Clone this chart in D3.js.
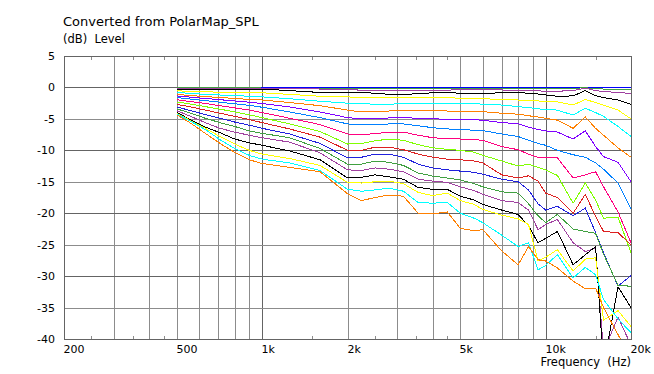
<!DOCTYPE html>
<html><head><meta charset="utf-8">
<script src="https://cdn.jsdelivr.net/npm/d3@7"></script>
<style>
body{margin:0;background:#fff;}
svg{display:block;font-family:"DejaVu Sans",Verdana,sans-serif;}
.pre{white-space:pre;}
</style></head><body>
<svg id="chart" width="654" height="374"></svg>
<script>
const freqs = [500,560,630,710,800,900,1000,1250,1600,2000,2240,2500,2800,3150,3550,4000,4500,5000,5600,6000,7000,8000,8700,9400,10000,11000,12500,13800,15000,16000,18000,20000];

const s01 = [0,0,0,0,0,0,0,0,0,0,0,0,0,0,0,0,0,0,0,0,0,0,0,0,0,0,0,0,0,0,0,0];
const s02 = [0,0,0,0,0,0,-0.1,-0.1,-0.15,-0.15,-0.15,-0.15,-0.15,-0.15,-0.15,-0.15,-0.15,-0.15,-0.15,-0.15,-0.15,-0.15,-0.15,-0.15,-0.15,-0.15,-0.15,-0.05,-0.2,-0.25,-0.25,-0.25];
const s03 = [-0.15,-0.15,-0.15,-0.15,-0.15,-0.15,-0.2,-0.2,-0.25,-0.3,-0.45,-0.5,-0.5,-0.5,-0.5,-0.5,-0.45,-0.3,-0.3,-0.3,-0.4,-0.55,-0.55,-0.55,-0.6,-0.6,-0.5,-0.1,-0.5,-0.65,-0.8,-0.95];
const s04 = [-0.25,-0.25,-0.25,-0.25,-0.25,-0.25,-0.25,-0.5,-0.8,-0.85,-0.85,-0.9,-1.1,-1.1,-1.0,-0.85,-0.85,-0.9,-0.9,-0.95,-0.85,-0.85,-0.9,-1.05,-1.2,-1.4,-1.35,-0.5,-1.3,-1.6,-2.0,-2.7];
const s05 = [-0.55,-0.6,-0.7,-0.75,-0.8,-0.8,-0.85,-1.1,-1.4,-1.5,-1.6,-1.65,-1.65,-1.6,-1.55,-1.6,-1.65,-1.7,-1.75,-1.8,-1.9,-2.0,-2.05,-2.15,-2.2,-2.3,-2.8,-1.9,-2.4,-2.8,-3.6,-5.0];
const s06 = [-0.8,-0.95,-1.1,-1.2,-1.3,-1.4,-1.5,-1.8,-2.2,-2.5,-2.6,-2.65,-2.65,-2.6,-2.6,-2.6,-2.6,-2.6,-2.6,-2.65,-2.8,-3.05,-3.2,-3.4,-3.5,-3.6,-4.4,-3.3,-4.0,-4.6,-6.2,-7.8];
const s07 = [-1.1,-1.3,-1.45,-1.6,-1.75,-1.9,-2.0,-2.4,-2.9,-3.6,-3.9,-3.9,-3.75,-3.65,-3.65,-3.7,-3.75,-3.8,-3.8,-3.85,-4.1,-4.25,-4.5,-4.7,-4.9,-5.2,-6.5,-4.7,-6.5,-7.6,-9.6,-11.1];
const s08 = [-1.35,-1.55,-1.75,-1.95,-2.15,-2.35,-2.55,-3.1,-3.9,-4.8,-5.0,-5.0,-4.85,-4.8,-4.9,-5.0,-5.05,-5.1,-5.15,-5.2,-5.6,-5.75,-6.3,-6.7,-6.9,-7.1,-8.2,-6.9,-9.4,-11.0,-11.9,-15.0];
const s09 = [-1.6,-1.85,-2.1,-2.35,-2.6,-2.85,-3.15,-3.9,-4.8,-5.8,-5.95,-5.95,-5.8,-5.8,-6.1,-6.4,-6.6,-6.7,-6.8,-6.85,-7.4,-7.8,-8.4,-8.9,-9.2,-10.0,-10.7,-11.1,-12.0,-13.0,-15.2,-19.3];
const s10 = [-1.95,-2.25,-2.55,-2.9,-3.25,-3.6,-4.0,-4.9,-5.9,-7.4,-7.5,-7.35,-7.1,-7.1,-7.6,-8.0,-8.15,-8.2,-8.3,-8.4,-9.4,-9.9,-10.6,-11.1,-11.2,-11.2,-14.4,-13.9,-13.4,-15.8,-19.8,-24.7];
const s11 = [-2.3,-2.65,-3.05,-3.45,-3.9,-4.35,-4.8,-5.8,-7.0,-9.0,-8.9,-8.5,-8.2,-8.4,-9.1,-9.6,-9.85,-10.0,-10.3,-10.8,-11.7,-12.5,-12.2,-12.7,-13.1,-14.0,-18.4,-15.2,-17.9,-20.8,-20.6,-26.3];
const s12 = [-2.7,-3.1,-3.6,-4.1,-4.6,-5.1,-5.6,-6.6,-7.9,-10.0,-10.0,-9.5,-9.5,-9.9,-10.6,-11.1,-11.4,-11.5,-11.7,-12.0,-13.9,-14.4,-14.05,-14.9,-16.8,-17.5,-20.0,-17.0,-20.5,-22.9,-23.1,-25.0];
const s13 = [-3.1,-3.7,-4.3,-4.9,-5.5,-6.0,-6.5,-7.4,-8.9,-11.2,-11.1,-10.6,-10.6,-11.1,-12.2,-12.8,-13.1,-13.3,-13.5,-13.8,-14.6,-15.0,-16.3,-18.5,-19.5,-18.9,-20.4,-19.2,-23.1,-26.3,-31.6,-29.9];
const s14 = [-3.4,-4.1,-4.9,-5.6,-6.2,-6.9,-7.3,-8.0,-9.7,-12.2,-12.2,-11.7,-11.9,-12.4,-13.6,-14.1,-14.4,-14.7,-15.3,-15.8,-16.6,-16.8,-18.5,-20.4,-21.5,-20.2,-22.5,-22.9,-23.2,-26.5,-31.5,-31.6];
const s15 = [-3.7,-4.6,-5.6,-6.5,-7.1,-7.6,-8.0,-8.7,-10.4,-13.1,-13.2,-12.8,-13.0,-13.4,-14.6,-14.9,-15.1,-15.8,-16.4,-17.0,-18.0,-18.3,-19.5,-22.6,-21.8,-21.0,-24.7,-26.1,-25.5,-42.0,-36.5,-41.0];
const s16 = [-3.95,-5.2,-6.3,-7.2,-8.2,-8.8,-9.2,-10.1,-11.5,-14.4,-14.3,-13.9,-14.2,-14.6,-15.9,-16.2,-16.2,-17.3,-17.9,-18.6,-19.5,-20.2,-22.0,-24.7,-24.0,-22.9,-28.2,-26.6,-25.3,-44.3,-31.7,-35.0];
const s17 = [-4.1,-5.3,-6.5,-7.8,-9.0,-10.0,-10.6,-11.3,-12.4,-15.1,-15.2,-15.0,-14.9,-15.3,-16.7,-17.2,-16.8,-18.0,-18.6,-19.4,-20.3,-20.9,-21.8,-27.6,-27.0,-25.8,-29.2,-27.3,-27.1,-37.0,-35.5,-38.0];
const s18 = [-4.2,-5.4,-6.7,-8.3,-9.7,-10.8,-11.4,-12.0,-13.2,-16.2,-16.5,-16.3,-16.0,-16.5,-18.3,-18.4,-18.3,-20.0,-20.8,-21.5,-23.5,-25.3,-24.7,-29.0,-28.3,-26.6,-30.3,-28.6,-29.8,-33.7,-36.8,-39.0];
const s19 = [-4.35,-5.7,-7.3,-8.9,-10.3,-11.5,-12.1,-12.7,-13.4,-16.9,-18.0,-17.5,-17.1,-17.3,-20.0,-20.1,-19.8,-22.4,-22.8,-22.6,-26.0,-28.2,-25.3,-27.4,-27.6,-28.7,-30.8,-32.0,-31.9,-35.0,-39.3,-43.0];

const seriesList = [s01,s02,s03,s04,s05,s06,s07,s08,s09,s10,s11,s12,s13,s14,s15,s16,s17,s18,s19];
const seriesColors = ["#0000ff","#40a040","#a040a0","#000000","#ffff00","#00ffff","#ff8000","#8000ff","#0080ff","#ff0080","#80ff00","#dd2020","#2020dd","#40a040","#a040a0","#000000","#ffff00","#00ffff","#ff8000"];

const xTickValues = [200,500,1000,2000,5000,10000,20000];
const xTickLabels = ["200","500","1k","2k","5k","10k","20k"];
const xGridValues = [300,400,500,600,700,800,900,1000,2000,3000,4000,5000,6000,7000,8000,9000,10000];
const xMajorGrid = [1000,10000];
const xMinorTicks = [250,350,450,1500,2500,3500,4500,15000];
const yTickValues = [5,0,-5,-10,-15,-20,-25,-30,-35,-40];
const yMajorGrid = [0,-10,-20,-30];

const L=64, R=631, T=56, B=339;
const x = d3.scaleLog().domain([200,20000]).range([L,R]);
const y = d3.scaleLinear().domain([-40,5]).range([B,T]);
const px = v => Math.round(v)+0.5;

const svg = d3.select("#chart");
const LIGHT = "#8c8c8c", DARK = "#646464";

// grid
const g = svg.append("g").attr("shape-rendering","crispEdges");
g.selectAll(".vg").data(xGridValues).enter().append("line")
  .attr("x1",d=>px(x(d))).attr("x2",d=>px(x(d))).attr("y1",T).attr("y2",B)
  .attr("stroke",d=>xMajorGrid.includes(d)?DARK:LIGHT).attr("stroke-width",1);
g.selectAll(".hg").data(yTickValues.filter(v=>v<5 && v>-40)).enter().append("line")
  .attr("x1",L).attr("x2",R).attr("y1",d=>px(y(d))).attr("y2",d=>px(y(d)))
  .attr("stroke",d=>yMajorGrid.includes(d)?DARK:LIGHT).attr("stroke-width",1);
// minor ticks
xMinorTicks.forEach(f=>{
  g.append("line").attr("x1",px(x(f))).attr("x2",px(x(f))).attr("y1",T).attr("y2",T+4).attr("stroke",LIGHT);
  g.append("line").attr("x1",px(x(f))).attr("x2",px(x(f))).attr("y1",B-3).attr("y2",B).attr("stroke",LIGHT);
});

// curves
svg.append("clipPath").attr("id","clip").append("rect")
  .attr("x",L).attr("y",T).attr("width",R-L+1).attr("height",B-T+1);
const line = d3.line().x((d,i)=>x(freqs[i])).y(d=>y(d));
const cg = svg.append("g").attr("clip-path","url(#clip)");
seriesList.forEach((s,i)=>{
  cg.append("path").attr("d",line(s)).attr("fill","none")
    .attr("stroke",seriesColors[i]).attr("stroke-width",1)
    .attr("shape-rendering","crispEdges");
});

// frame
const fg = svg.append("g").attr("shape-rendering","crispEdges");
fg.append("line").attr("x1",L).attr("x2",R+1).attr("y1",px(T)).attr("y2",px(T)).attr("stroke",DARK);
fg.append("line").attr("x1",L).attr("x2",R+1).attr("y1",px(B)).attr("y2",px(B)).attr("stroke",DARK);
fg.append("line").attr("x1",px(L)).attr("x2",px(L)).attr("y1",T).attr("y2",B+1).attr("stroke",DARK);
fg.append("line").attr("x1",px(R)).attr("x2",px(R)).attr("y1",T).attr("y2",B+1).attr("stroke",DARK);

// tick labels
svg.selectAll(".xt").data(xTickValues).enter().append("text")
  .attr("x",d=>Math.round(x(d))-0.5).attr("y",353).attr("font-size",11).attr("fill","#000")
  .attr("text-anchor","start").text((d,i)=>xTickLabels[i]);
svg.selectAll(".yt").data(yTickValues).enter().append("text")
  .attr("x",55).attr("y",d=>y(d)+4).attr("font-size",11).attr("fill","#000")
  .attr("text-anchor","end").text(d=>d);

// titles
svg.append("text").attr("x",63).attr("y",26).attr("font-size",13).attr("fill","#000")
  .text("Converted from PolarMap_SPL");
svg.append("text").attr("class","pre").attr("x",63).attr("y",43).attr("font-size",11.5).attr("fill","#000")
  .text("(dB)  Level");
svg.append("text").attr("class","pre").attr("x",631).attr("y",366).attr("font-size",11.5).attr("fill","#000")
  .attr("text-anchor","end").text("Frequency  (Hz)");
</script>
</body></html>
